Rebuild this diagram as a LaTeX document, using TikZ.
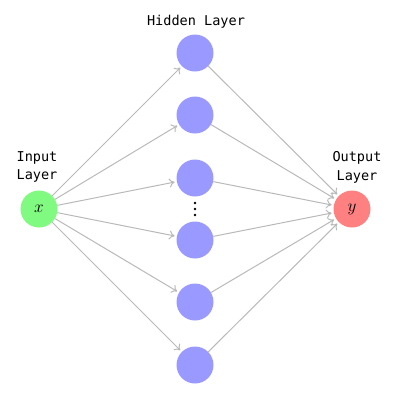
\documentclass[tikz,border=0pt]{standalone}
\usepackage{fontspec}
\newfontfamily\monofont{DejaVu Sans Mono}
\usetikzlibrary{arrows.meta}
\definecolor{ingreen}{RGB}{128,250,128}
\definecolor{hidblue}{RGB}{153,153,255}
\definecolor{outred}{RGB}{255,128,128}
\definecolor{edgegray}{RGB}{185,185,185}
\begin{document}
\begin{tikzpicture}[x=1bp,y=-1bp,
  neuron/.style={circle,minimum size=37bp,inner sep=0pt,draw=none},
  innode/.style={neuron,fill=ingreen},
  hidnode/.style={neuron,fill=hidblue},
  outnode/.style={neuron,fill=outred},
  edge/.style={draw=edgegray,line width=1bp,-{To[length=5.5bp,width=9bp]},shorten >=2bp},
  lbl/.style={font=\monofont\fontsize{13.6}{19}\selectfont,align=center,inner sep=0pt}]
\useasboundingbox (0,0) rectangle (400,402);
\node[innode] (x) at (39,209) {\LARGE$x$};
\node[outnode] (y) at (352,209) {\LARGE$y$};
\foreach \i/\yy in {1/53,2/115,3/178,4/240,5/302,6/365}{
  \node[hidnode] (h\i) at (195,\yy) {};
}
\foreach \i in {1,...,6}{
  \draw[edge] (x) -- (h\i);
  \draw[edge] (h\i) -- (y);
}
\node[lbl] (hl) at (196,22) {Hidden Layer};
\node[lbl] (il) at (37,167) {Input\\Layer};
\node[lbl] (ol) at (357,167) {Output\\Layer};
\foreach \d/\yy in {d1/203,d2/209,d3/215}{
  \fill (195,\yy) circle (1.3bp);
}
\end{tikzpicture}
\end{document}
